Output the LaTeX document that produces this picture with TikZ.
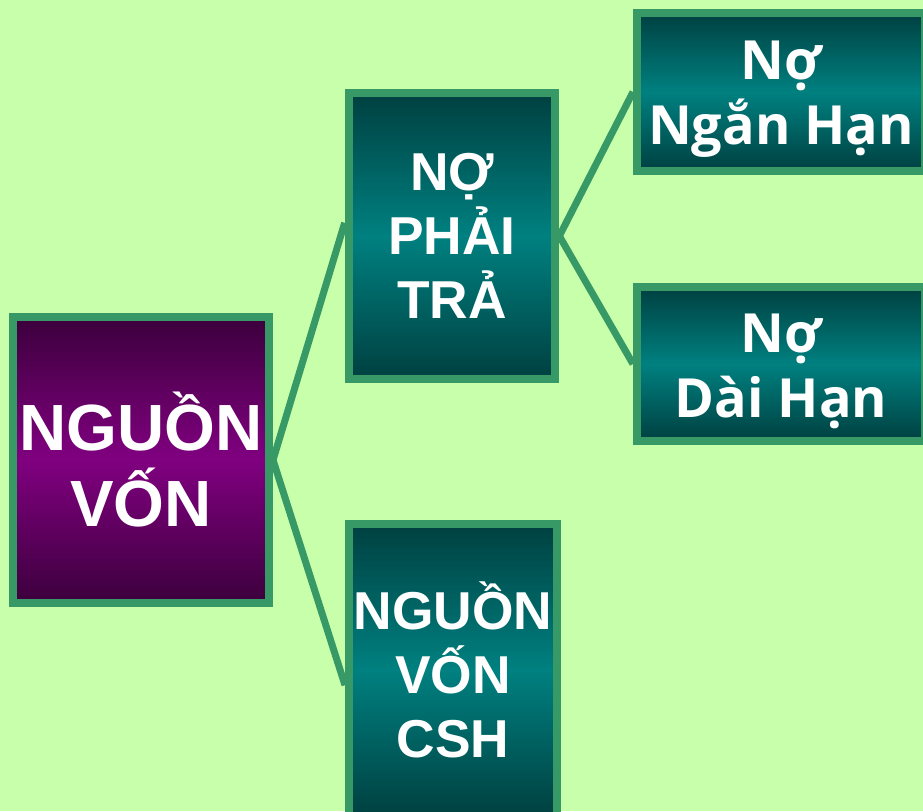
\documentclass[tikz,border=0pt]{standalone}
\usepackage{fontspec}
\setmainfont{Liberation Sans}
\newfontfamily\lowfont{Open Sans}
\usepackage{tikz}
\usetikzlibrary{shapes}

\definecolor{bgGreen}{HTML}{C8FFAA}
\definecolor{edgeGreen}{HTML}{379966}
\definecolor{plumDark}{HTML}{3C003C}
\definecolor{plumMid}{HTML}{800080}
\definecolor{tealDark}{HTML}{004040}
\definecolor{tealMid}{HTML}{008080}

\begin{document}
\begin{tikzpicture}[x=0.75pt, y=-0.75pt,
  box/.style={rectangle, draw=edgeGreen, line width=6pt, inner sep=0pt,
    text=white, align=center, font=\bfseries},
  plumbox/.style={box, top color=plumDark, bottom color=plumDark, middle color=plumMid},
  tealbox/.style={box, top color=tealDark, bottom color=tealDark, middle color=tealMid},
  link/.style={draw=edgeGreen, line width=5.25pt}]
\fill[bgGreen] (0,0) rectangle (923,811);
\useasboundingbox (0,0) rectangle (923,811);

\node[plumbox, minimum width=192pt, minimum height=215pt,
  font=\bfseries\fontsize{49}{57}\selectfont] (nguon) at (141,460) {NGUỒN\\VỐN};
\node[tealbox, minimum width=155pt, minimum height=214pt,
  font=\bfseries\fontsize{40}{48}\selectfont] (nophaitra) at (452,236) {NỢ\\PHẢI\\TRẢ};
\node[tealbox, minimum width=156pt, minimum height=219pt,
  font=\bfseries\fontsize{40}{48}\selectfont] (chusohuu) at (453,670) {NGUỒN\\VỐN\\CSH};
\node[tealbox, minimum width=216pt, minimum height=119pt,
  font=\lowfont\bfseries\fontsize{40.5}{48}\selectfont] (nganhan) at (781,92) {\rule{0pt}{40pt}Nợ\\[1pt]Ngắn Hạn};
\node[tealbox, minimum width=216pt, minimum height=115pt,
  font=\lowfont\bfseries\fontsize{40.5}{48}\selectfont] (daihan) at (781,364) {\rule{0pt}{40pt}Nợ\\[1pt]Dài Hạn};

\draw[link] (nguon.east) -- (nophaitra.173);
\draw[link] (nguon.east) -- (chusohuu.188);
\draw[link] (nophaitra.east) -- (nganhan.west);
\draw[link] (nophaitra.east) -- (daihan.west);
\end{tikzpicture}
\end{document}
